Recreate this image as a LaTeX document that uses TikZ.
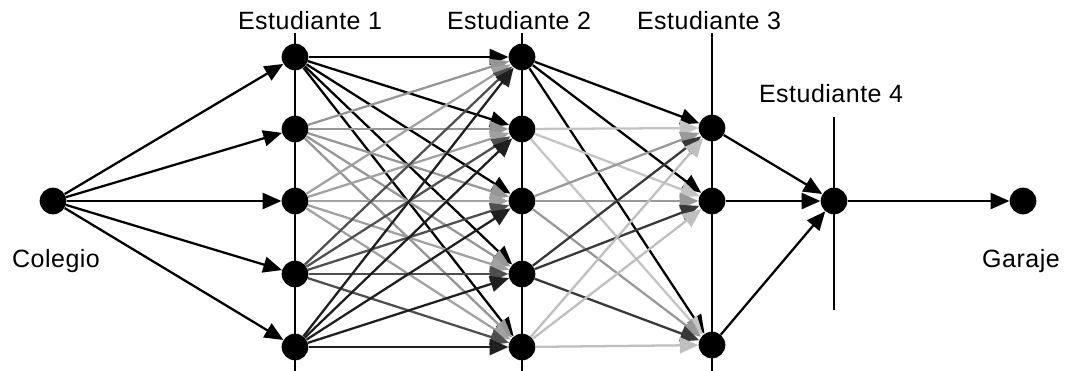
\documentclass[tikz,border=0pt]{standalone}
\usepackage{fontspec}
\setmainfont[LetterSpace=2]{Liberation Sans}
\usetikzlibrary{arrows.meta}

\definecolor{gray12}{gray}{0.12}
\definecolor{gray22}{gray}{0.22}
\definecolor{gray31}{gray}{0.31}
\definecolor{gray59}{gray}{0.59}
\definecolor{gray60}{gray}{0.60}
\definecolor{gray63}{gray}{0.63}
\definecolor{gray75}{gray}{0.75}
\definecolor{gray77}{gray}{0.77}

\tikzset{
  stop/.style={circle, fill=black, inner sep=0pt, minimum size=20pt},
  lbl/.style={anchor=base, font=\fontsize{18.75pt}{22pt}\selectfont},
  hop/.style={->, line width=1.7pt},
  axis/.style={line width=1.7pt},
}

\begin{document}
\begin{tikzpicture}[x=0.75pt, y=-0.75pt, >={Triangle[length=14pt,width=12pt]}]
    \useasboundingbox (0,0) rectangle (1068,371);
    % student lines
    \foreach \n/\x/\t/\b in {1/295/33/371, 2/522/33/371, 3/712/33/371, 4/834/117/310} {
        \coordinate (top\n) at (\x,\t);
        \coordinate (bot\n) at (\x,\b);
        \draw[axis] (top\n) -- (bot\n);
    }
    % stops
    \node[stop] (col) at (53,201) {};
    \foreach \i/\y in {1/57, 2/129, 3/201, 4/274, 5/347} {
        \node[stop] (a\i) at (295,\y) {};
        \node[stop] (b\i) at (522,\y) {};
    }
    \node[stop] (c1) at (712,128) {};
    \node[stop] (c2) at (712,201) {};
    \node[stop] (c3) at (712,345) {};
    \node[stop] (d) at (834,201) {};
    \node[stop] (gar) at (1023,201) {};
    % labels
    \node[lbl] (lcol) at (56,267) {Colegio};
    \node[lbl] (lgar) at (1021,267) {Garaje};
    \node[lbl] (l1) at (310,29) {Estudiante 1};
    \node[lbl] (l2) at (519,29) {Estudiante 2};
    \node[lbl] (l3) at (709,29) {Estudiante 3};
    \node[lbl] (l4) at (831,102) {Estudiante 4};
    % routes
    \foreach \i in {1,...,5}
        \draw[hop] (col) -- (a\i);
    \foreach \i/\c in {1/black, 2/gray59, 3/gray63, 4/gray31, 5/gray12}
        \foreach \j in {1,...,5}
            \draw[hop, \c] (a\i) -- (b\j);
    \foreach \i/\c in {1/black, 2/gray77, 3/gray60, 4/gray22, 5/gray75}
        \foreach \j in {1,2,3}
            \draw[hop, \c] (b\i) -- (c\j);
    \foreach \j in {1,2,3}
        \draw[hop] (c\j) -- (d);
    \draw[hop] (d) -- (gar);
\end{tikzpicture}
\end{document}
